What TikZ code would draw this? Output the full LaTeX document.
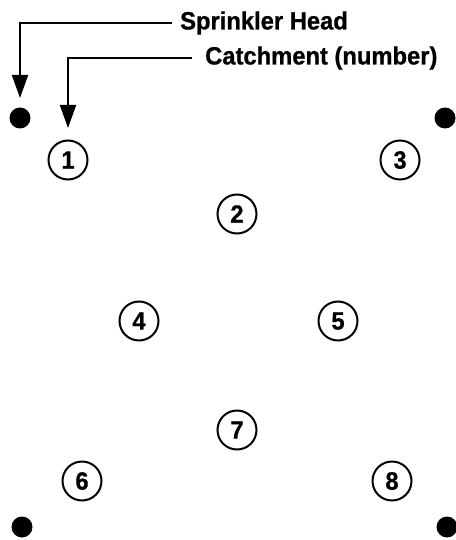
\documentclass[tikz,border=0pt]{standalone}
\usepackage{fontspec}
\setmainfont{Liberation Sans}[FakeStretch=0.95,BoldFeatures={FakeBold=0.8}]
\usetikzlibrary{arrows.meta}
\begin{document}
\begin{tikzpicture}[x=1pt,y=-1pt,
  catch/.style={circle,draw,line width=2pt,minimum size=39pt,inner sep=0pt,font=\fontsize{25}{29}\selectfont\bfseries},
  head/.style={circle,fill,minimum size=21pt,inner sep=0pt},
  label/.style={anchor=west,inner sep=0pt,font=\fontsize{25}{30}\selectfont\bfseries},
  pointer/.style={line width=2pt,-{Triangle[length=23pt,width=16pt]}}]
\useasboundingbox (0,0) rectangle (455,540);
% sprinkler heads
\node[head] (h1) at (20,118) {};
\node[head] (h2) at (445,118) {};
\node[head] (h3) at (22,527) {};
\node[head] (h4) at (447,527) {};
% catchments
\node[catch] (c1) at (68,160) {1};
\node[catch] (c3) at (400,160) {3};
\node[catch] (c2) at (237,214) {2};
\node[catch] (c4) at (139,321) {4};
\node[catch] (c5) at (338,321) {5};
\node[catch] (c7) at (237,430) {7};
\node[catch] (c6) at (82,481) {6};
\node[catch] (c8) at (392,481) {8};
% labels
\node[label] (lh) at (180,23) {Sprinkler Head};
\node[label] (lc) at (205,58) {Catchment (number)};
\coordinate (th) at (20,98);
\coordinate (tc) at (68,128);
\draw[pointer] ([xshift=-8pt]lh.west) -| (th);
\draw[pointer] ([xshift=-13pt]lc.west) -| (tc);
\end{tikzpicture}
\end{document}
